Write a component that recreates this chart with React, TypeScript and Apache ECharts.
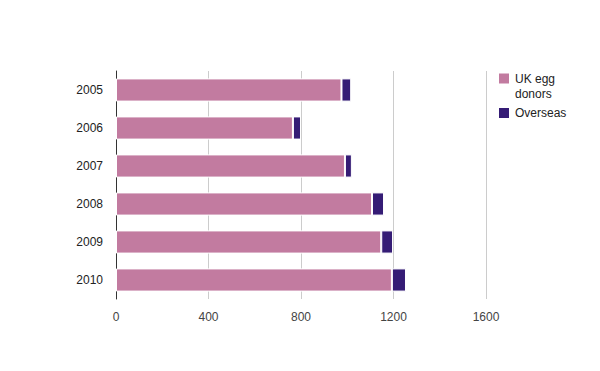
import React, { useEffect, useRef } from "react";
import * as echarts from "echarts";

const years = ["2005", "2006", "2007", "2008", "2009", "2010"];
const ukDonors = [975, 765, 990, 1107, 1147, 1193];
const overseas = [42, 35, 30, 52, 51, 61];

export default function App() {
  const ref = useRef<HTMLDivElement>(null);
  useEffect(() => {
    if (!ref.current) return;
    const chart = echarts.init(ref.current, undefined, { renderer: "svg" });
    const legendCommon = {
      orient: "vertical",
      left: 497,
      padding: 0,
      itemWidth: 12,
      itemHeight: 12,
      icon: "rect",
    };
    chart.setOption({
      animation: false,
      textStyle: { fontFamily: "Liberation Sans, Arial, sans-serif" },
      grid: { left: 116, right: 114, top: 71, bottom: 72, containLabel: false },
      legend: [
        {
          ...legendCommon,
          top: 56,
          textStyle: { color: "#222", fontSize: 12, lineHeight: 15 },
          formatter: (n: string) => (n === "UK egg donors" ? " \nUK egg\ndonors" : n),
          data: ["UK egg donors"],
        },
        {
          ...legendCommon,
          top: 106,
          textStyle: { color: "#222", fontSize: 12 },
          data: ["Overseas"],
        },
      ],
      xAxis: {
        type: "value",
        min: 0,
        max: 1600,
        interval: 400,
        axisLine: { show: false },
        axisTick: { show: false },
        axisLabel: { color: "#444", fontSize: 12, margin: 12, formatter: (v: number) => String(v) },
        splitLine: { lineStyle: { color: "#ccc" } },
      },
      yAxis: {
        type: "category",
        inverse: true,
        data: years,
        axisLine: { show: true, lineStyle: { color: "#333" } },
        axisTick: { show: false },
        axisLabel: { color: "#222", fontSize: 12, margin: 13 },
      },
      series: [
        {
          name: "UK egg donors",
          type: "bar",
          stack: "total",
          data: ukDonors,
          barCategoryGap: "39%",
          itemStyle: { color: "#c27ba0", borderColor: "#fff", borderWidth: 1 },
        },
        {
          name: "Overseas",
          type: "bar",
          stack: "total",
          data: overseas,
          barCategoryGap: "39%",
          itemStyle: { color: "#351c75", borderColor: "#fff", borderWidth: 1 },
        },
      ],
    });
    return () => chart.dispose();
  }, []);
  return <div ref={ref} style={{ width: 600, height: 371, margin: -8 }} />;
}
